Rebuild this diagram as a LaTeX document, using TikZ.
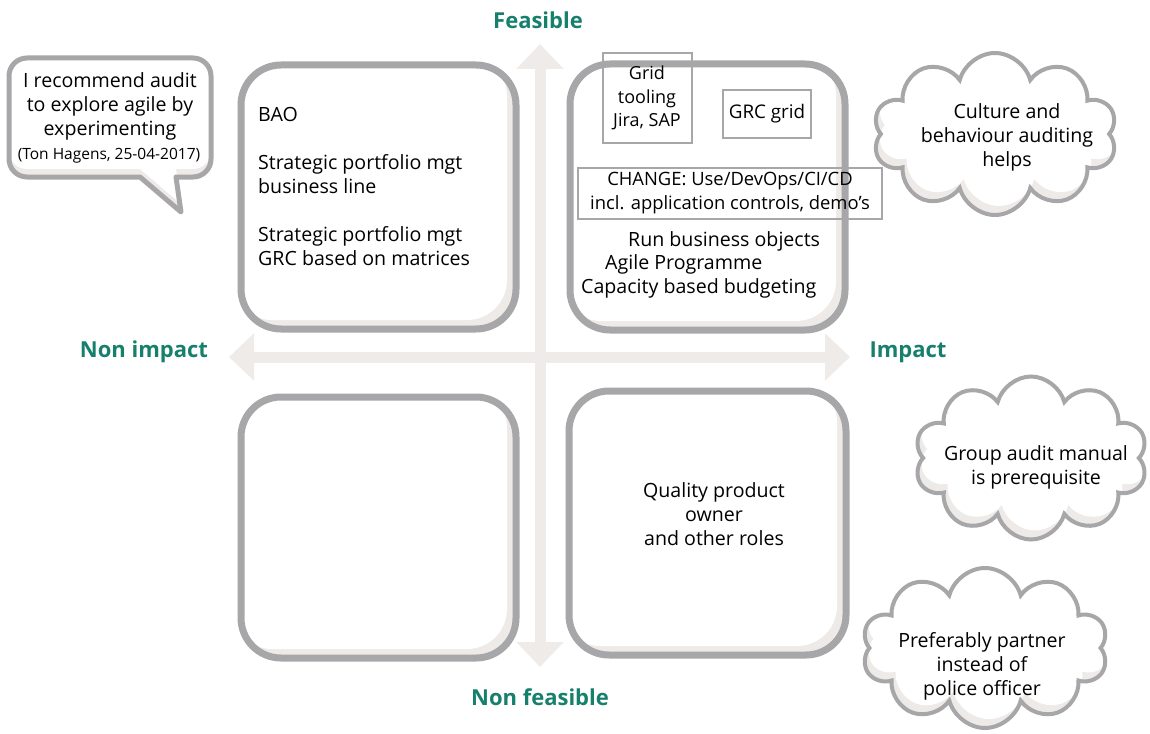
\documentclass[tikz,border=0pt]{standalone}
\usepackage{fontspec}
\setmainfont{Open Sans}
\usetikzlibrary{arrows.meta,shapes.symbols}

\definecolor{boxgray}{HTML}{A7A7A9}
\definecolor{shadegray}{HTML}{EDEAE8}
\definecolor{axisgray}{HTML}{EEEBE9}
\definecolor{labelgreen}{HTML}{17806D}

\begin{document}
\begin{tikzpicture}[x=1pt,y=-1pt,
		every node/.style={font=\fontsize{19.6}{24}\selectfont, inner sep=0pt},
		quad/.style={draw=boxgray, line width=7pt, rounded corners=40pt},
		axisline/.style={draw=axisgray, line width=11pt, arrows={Triangle[width=46pt,length=25pt]-Triangle[width=46pt,length=25pt]}},
		axislabel/.style={font=\fontsize{22}{24}\selectfont\bfseries, text=labelgreen},
		tagbox/.style={draw=boxgray, line width=2pt, align=center, font=\fontsize{18}{23.5}\selectfont},
		thought/.style={cloud, cloud puffs=10, cloud ignores aspect, minimum width=244pt, minimum height=162pt},
	]
		\useasboundingbox (0,0) rectangle (1150,733);

		% quadrants, light shade on the lower right inside
		\fill[shadegray, rounded corners=40pt] (241,65) rectangle (516,329);
		\fill[white, rounded corners=40pt, xshift=-9pt, yshift=9pt] (241,65) rectangle (516,329);
		\fill[shadegray, rounded corners=40pt] (570,64) rectangle (845,330);
		\fill[white, rounded corners=40pt, xshift=-9pt, yshift=9pt] (570,64) rectangle (845,330);
		\fill[shadegray, rounded corners=40pt] (241,397) rectangle (516,658);
		\fill[white, rounded corners=40pt, xshift=-9pt, yshift=9pt] (241,397) rectangle (516,658);
		\fill[shadegray, rounded corners=40pt] (569,391) rectangle (846,655);
		\fill[white, rounded corners=40pt, xshift=-9pt, yshift=9pt] (569,391) rectangle (846,655);

		\coordinate (up) at (540,44);
		\coordinate (down) at (540,667);
		\coordinate (west) at (229,357);
		\coordinate (east) at (850,357);
		\draw[axisline] (west) -- (east);
		\draw[axisline] (down) -- (up);

		\draw[quad] (241,65) rectangle (516,329);
		\draw[quad] (570,64) rectangle (845,330);
		\draw[quad] (241,397) rectangle (516,658);
		\draw[quad] (569,391) rectangle (846,655);

		\node[axislabel] (feasible) at (538,20) {Feasible};
		\node[axislabel] (nonfeasible) at (540,697) {Non feasible};
		\node[axislabel] (nonimpact) at (144,352) {Non impact};
		\node[axislabel] (impact) at (908,352) {Impact};

		\node[anchor=west] (bao) at (258,114) {BAO};
		\node[anchor=west, align=left] (portline) at (258,174) {Strategic portfolio mgt\\business line};
		\node[anchor=west, align=left] (portgrc) at (258,246) {Strategic portfolio mgt\\GRC based on matrices};

		\node[tagbox, minimum width=89pt, minimum height=90pt] (tooling) at (647,98) {Grid\\tooling\\Jira, SAP};
		\node[tagbox, font=\fontsize{18.8}{24}\selectfont, minimum width=88pt, minimum height=48pt] (grcgrid) at (767,114) {GRC grid};
		\node[tagbox, font=\fontsize{18.4}{24}\selectfont, minimum width=304pt, minimum height=51pt] (change) at (730,193) {CHANGE: Use/DevOps/CI/CD\\incl. application controls, demo’s};
		\node[anchor=west] (runobj) at (628,241) {Run business objects};
		\node[anchor=west] (agile) at (605,264) {Agile Programme};
		\node[anchor=west] (budget) at (581,288) {Capacity based budgeting};

		\node[align=center] (roles) at (714,514) {Quality product\\owner\\and other roles};

		% thought clouds
		\node[thought, fill=shadegray] at (995,134) {};
		\node[thought, fill=white, xshift=4pt, yshift=9pt] at (995,134) {};
		\node[thought, draw=boxgray, line width=4pt] (culture) at (995,134) {};
		\node[align=center] (culturetxt) at (1007,137) {Culture and\\behaviour auditing\\helps};

		\node[thought, minimum width=233pt, minimum height=163pt, fill=shadegray] at (1031,458) {};
		\node[thought, minimum width=233pt, minimum height=163pt, fill=white, xshift=4pt, yshift=9pt] at (1031,458) {};
		\node[thought, minimum width=233pt, minimum height=163pt, draw=boxgray, line width=4pt] (manual) at (1031,458) {};
		\node[align=center] (manualtxt) at (1036,467) {Group audit manual\\is prerequisite};

		\node[thought, minimum width=246pt, minimum height=160pt, fill=shadegray] at (985,648) {};
		\node[thought, minimum width=246pt, minimum height=160pt, fill=white, xshift=4pt, yshift=9pt] at (985,648) {};
		\node[thought, minimum width=246pt, minimum height=160pt, draw=boxgray, line width=4pt] (partner) at (985,648) {};
		\node[align=center] (partnertxt) at (982,666) {Preferably partner\\instead of\\police officer};

		% speech bubble
		\fill[shadegray] (181,212) -- (176,177) [rounded corners=18pt] -- (211,177) -- (211,58) -- (9,58) -- (9,177) [sharp corners] -- (140,177) -- cycle;
		\fill[white, yshift=8pt] (181,212) -- (176,177) [rounded corners=18pt] -- (211,177) -- (211,58) -- (9,58) -- (9,177) [sharp corners] -- (140,177) -- cycle;
		\draw[boxgray, line width=5pt, line join=round] (181,212) -- (176,177) [rounded corners=18pt] -- (211,177) -- (211,58) -- (9,58) -- (9,177) [sharp corners] -- (140,177) -- cycle;
		\node[align=center] (quote) at (110,106) {I recommend audit\\to explore agile by\\experimenting};
		\node[font=\fontsize{15.5}{16}\selectfont] (source) at (109,156) {(Ton Hagens, 25-04-2017)};
	\end{tikzpicture}
\end{document}
